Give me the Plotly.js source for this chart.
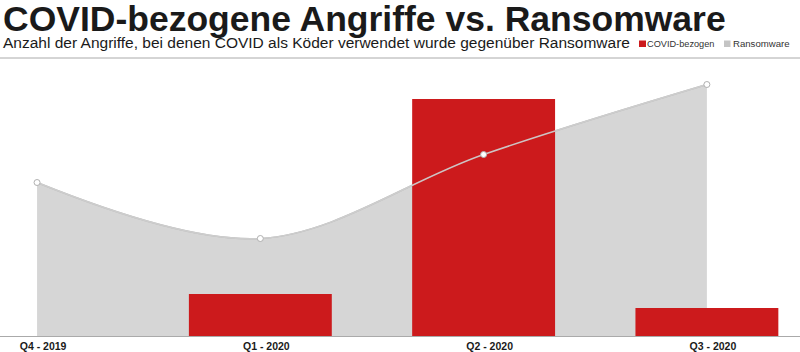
<!DOCTYPE html>
<html>
<head>
<meta charset="utf-8">
<script src="https://cdn.plot.ly/plotly-3.0.1.min.js"></script>
<style>html,body{margin:0;padding:0;background:#fff;}#chart{width:800px;height:352px;}</style>
</head>
<body>
<div id="chart"></div>
<script>
const categories = ["Q4 - 2019", "Q1 - 2020", "Q2 - 2020", "Q3 - 2020"];
const ransomware = [153.5, 97.5, 181.5, 251.5];
const covid = [0, 42, 237, 28];
const seriesNames = ["COVID-bezogen", "Ransomware"];
const titleText = "COVID-bezogene Angriffe vs. Ransomware";
const subtitleText = "Anzahl der Angriffe, bei denen COVID als Köder verwendet wurde gegenüber Ransomware";

const RED = "#cc1a1c";
const GRAY_FILL = "#d6d6d6";
const GRAY_LINE = "#b8b8b8";
const FONT = "Liberation Sans, Arial, Helvetica, sans-serif";

const H = 352, T = 60, B = 16, PH = H - T - B;
const py = (Y) => (H - B - Y) / PH; // pixel -> paper y
const px = (X) => X / 800;

const traces = [
  { // area fill under the bars
    type: "scatter", mode: "lines", x: categories, y: ransomware,
    xaxis: "x", yaxis: "y",
    fill: "tozeroy", fillcolor: GRAY_FILL,
    line: { color: GRAY_LINE, width: 1.5, shape: "spline", smoothing: 1 },
    hoverinfo: "skip", showlegend: false
  },
  {
    type: "bar", x: categories, y: covid, name: seriesNames[0],
    xaxis: "x2", yaxis: "y2",
    marker: { color: RED, line: { width: 0 } }, width: 0.64,
    showlegend: false
  },
  { // line + markers above the bars
    type: "scatter", mode: "lines+markers", x: categories, y: ransomware, name: seriesNames[1],
    xaxis: "x2", yaxis: "y2",
    line: { color: "rgba(205,205,205,0.95)", width: 1.5, shape: "spline", smoothing: 1 },
    marker: { symbol: "circle", size: 6, color: "#ffffff", line: { color: "#b0b0b0", width: 1 } },
    showlegend: false
  }
];

const xr = [-0.166, 3.417];
const yr = [0, PH];

const layout = {
  width: 800, height: H,
  margin: { l: 0, r: 0, t: T, b: B, pad: 0 },
  paper_bgcolor: "#fff", plot_bgcolor: "rgba(0,0,0,0)",
  showlegend: false,
  font: { family: FONT, color: "#222" },
  xaxis: {
    type: "category", categoryarray: categories, range: xr, fixedrange: true,
    showline: true, linecolor: "#aaaaaa", linewidth: 1, showgrid: false, zeroline: false,
    ticks: "", ticklabelshift: 6,
    tickfont: { family: FONT, size: 10.5, color: "#1a1a1a", weight: "bold" }
  },
  yaxis: { range: yr, visible: false, fixedrange: true },
  xaxis2: { type: "category", categoryarray: categories, range: xr, overlaying: "x", visible: false, fixedrange: true },
  yaxis2: { range: yr, overlaying: "y", visible: false, fixedrange: true },
  shapes: [
    { type: "line", xref: "paper", yref: "paper", x0: 0, x1: 1, y0: py(58), y1: py(58), line: { color: "#aaaaaa", width: 1 } },
    { type: "rect", xref: "paper", yref: "paper", x0: px(639), x1: px(646), y0: py(47), y1: py(40.5), fillcolor: RED, line: { width: 0 } },
    { type: "rect", xref: "paper", yref: "paper", x0: px(724), x1: px(730.5), y0: py(47), y1: py(40.5), fillcolor: "#c4c4c4", line: { width: 0 } }
  ],
  annotations: [
    { text: titleText, xref: "paper", yref: "paper", x: px(1), y: py(18.5), xanchor: "left", yanchor: "middle",
      showarrow: false, font: { family: FONT, size: 35.5, color: "#1a1a1a", weight: "bold" } },
    { text: subtitleText, xref: "paper", yref: "paper", x: px(1), y: py(43), xanchor: "left", yanchor: "middle",
      showarrow: false, font: { family: FONT, size: 15.5, color: "#1a1a1a" } },
    { text: seriesNames[0], xref: "paper", yref: "paper", x: px(645), y: py(44), xanchor: "left", yanchor: "middle",
      showarrow: false, font: { family: FONT, size: 9.2, color: "#333" } },
    { text: seriesNames[1], xref: "paper", yref: "paper", x: px(730.5), y: py(44), xanchor: "left", yanchor: "middle",
      showarrow: false, font: { family: FONT, size: 9.6, color: "#333" } }
  ]
};

Plotly.newPlot("chart", traces, layout, { displayModeBar: false, staticPlot: true });
</script>
</body>
</html>
